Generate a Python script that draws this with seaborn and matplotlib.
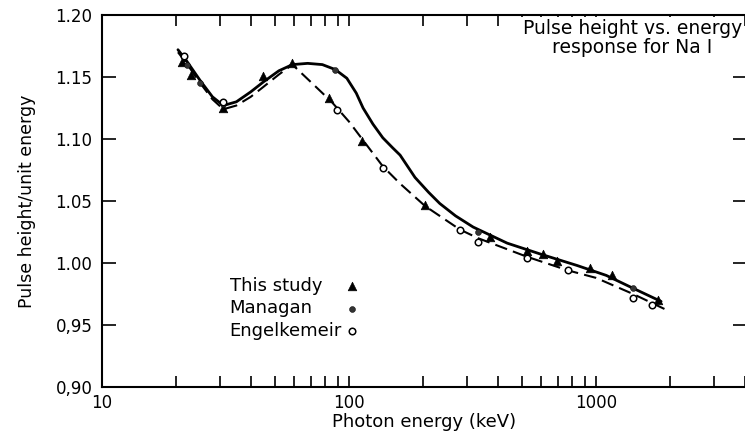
import seaborn as sns
import matplotlib.pyplot as plt
import matplotlib.ticker as mticker

# data
study_e = [21, 23, 31, 45, 59, 83, 113, 203, 372, 526, 610, 695, 946, 1162, 1782]
study_r = [1.162, 1.152, 1.125, 1.151, 1.161, 1.133, 1.098, 1.047, 1.021, 1.010, 1.007, 1.002, 0.996, 0.990, 0.970]

managan_e = [22, 25, 31, 88, 333, 1413]
managan_r = [1.160, 1.145, 1.128, 1.156, 1.025, 0.980]

engel_e = [21.5, 31, 89, 137, 281, 333, 526, 771, 1413, 1686]
engel_r = [1.167, 1.130, 1.123, 1.077, 1.027, 1.017, 1.004, 0.994, 0.972, 0.966]

solid_e = [20.3, 22, 25, 28, 31, 35, 40, 45, 52, 59, 68, 78, 88, 98, 107, 114, 125, 137, 150,
           161, 185, 210, 233, 270, 318, 437, 600, 838, 1100, 1400, 1834]
solid_r = [1.172, 1.163, 1.147, 1.134, 1.127, 1.130, 1.138, 1.146, 1.155, 1.160, 1.161, 1.160,
           1.156, 1.149, 1.137, 1.125, 1.112, 1.101, 1.093, 1.087, 1.069, 1.057, 1.048, 1.038,
           1.029, 1.016, 1.007, 0.998, 0.990, 0.980, 0.969]

dash_e = [20.3, 22, 25, 28, 31, 35, 40, 45, 52, 59, 70, 85, 100, 113, 137, 161, 203, 281, 333,
          526, 771, 1000, 1413, 1936]
dash_r = [1.170, 1.161, 1.145, 1.132, 1.124, 1.127, 1.134, 1.142, 1.152, 1.160, 1.146, 1.130,
          1.114, 1.100, 1.078, 1.064, 1.046, 1.027, 1.020, 1.005, 0.994, 0.988, 0.975, 0.962]

y_ticks = [0.90, 0.95, 1.00, 1.05, 1.10, 1.15, 1.20]
y_labels = ['0,90', '0,95', '1.00', '1.05', '1.10', '1.15', '1.20']
x_ticks = [10, 100, 1000]
x_labels = ['10', '100', '1000']

sns.set_theme(style="ticks")
plt.rcParams['font.family'] = ['DejaVu Sans']
plt.rcParams['xtick.direction'] = 'in'
plt.rcParams['ytick.direction'] = 'in'
plt.rcParams['text.color'] = 'black'
plt.rcParams['axes.labelcolor'] = 'black'
plt.rcParams['xtick.labelcolor'] = 'black'
plt.rcParams['ytick.labelcolor'] = 'black'

fig = plt.figure(figsize=(7.45, 4.33), dpi=100)
ax = fig.add_axes([102 / 745, 46 / 433, 645 / 745, 372 / 433])

sns.lineplot(x=solid_e, y=solid_r, color='black', lw=2.0, ax=ax)
sns.lineplot(x=dash_e, y=dash_r, color='black', lw=1.5, linestyle=(0, (6, 3)), ax=ax)

handles = []
sns.scatterplot(x=study_e, y=study_r, marker='^', s=38, color='black', edgecolor='black',
                ax=ax, zorder=3)
handles.append(ax.collections[-1])
sns.scatterplot(x=managan_e, y=managan_r, marker='o', s=18, color='#333333', edgecolor='black',
                ax=ax, zorder=3)
handles.append(ax.collections[-1])
sns.scatterplot(x=engel_e, y=engel_r, marker='o', s=22, color='white', edgecolor='black',
                linewidth=1.1, ax=ax, zorder=3)
handles.append(ax.collections[-1])
names = ['This study', 'Managan', 'Engelkemeir']

ax.set_xscale('log')
ax.set_xlim(10, 4085)
ax.set_ylim(0.90, 1.20)
ax.set_yticks(y_ticks)
ax.set_yticklabels(y_labels)
ax.xaxis.set_major_locator(mticker.FixedLocator(x_ticks))
ax.xaxis.set_major_formatter(mticker.FixedFormatter(x_labels))
ax.xaxis.set_minor_locator(mticker.LogLocator(base=10, subs=range(2, 10)))
ax.xaxis.set_minor_formatter(mticker.NullFormatter())
ax.tick_params(axis='both', which='both', top=True, right=True, color='black', width=1.2)
ax.tick_params(axis='x', which='both', length=8, labelsize=12, pad=5)
ax.tick_params(axis='y', which='both', length=10, labelsize=12, pad=7)
for sp in ax.spines.values():
    sp.set_linewidth(1.5)
    sp.set_color('black')

ax.set_xlabel('Photon energy (keV)', fontsize=13, labelpad=1)
ax.set_ylabel('Pulse height/unit energy', fontsize=12.5, labelpad=14)

ax.text(0.822, 0.99, 'Pulse height vs. energy\nresponse for Na I', transform=ax.transAxes,
        ha='center', va='top', fontsize=13.5, linespacing=1.0, zorder=5,
        bbox=dict(facecolor='white', edgecolor='none', pad=1))

# legend: labels left-aligned, markers in a column on the right
leg_kw = dict(loc='upper left', bbox_to_anchor=(0.184, 0.32), frameon=False, fontsize=13,
              handlelength=0.8, handletextpad=0.15, labelspacing=0.24, borderpad=0)
leg1 = ax.legend(handles, names, markerfirst=False, **leg_kw)
for t in leg1.get_texts():
    t.set_alpha(0)
ax.add_artist(leg1)
leg2 = ax.legend(handles, names, markerfirst=True, **dict(leg_kw, handlelength=0, handletextpad=0))
for h in leg2.legend_handles:
    h.set_visible(False)

fig.savefig('out.png', dpi=100)
